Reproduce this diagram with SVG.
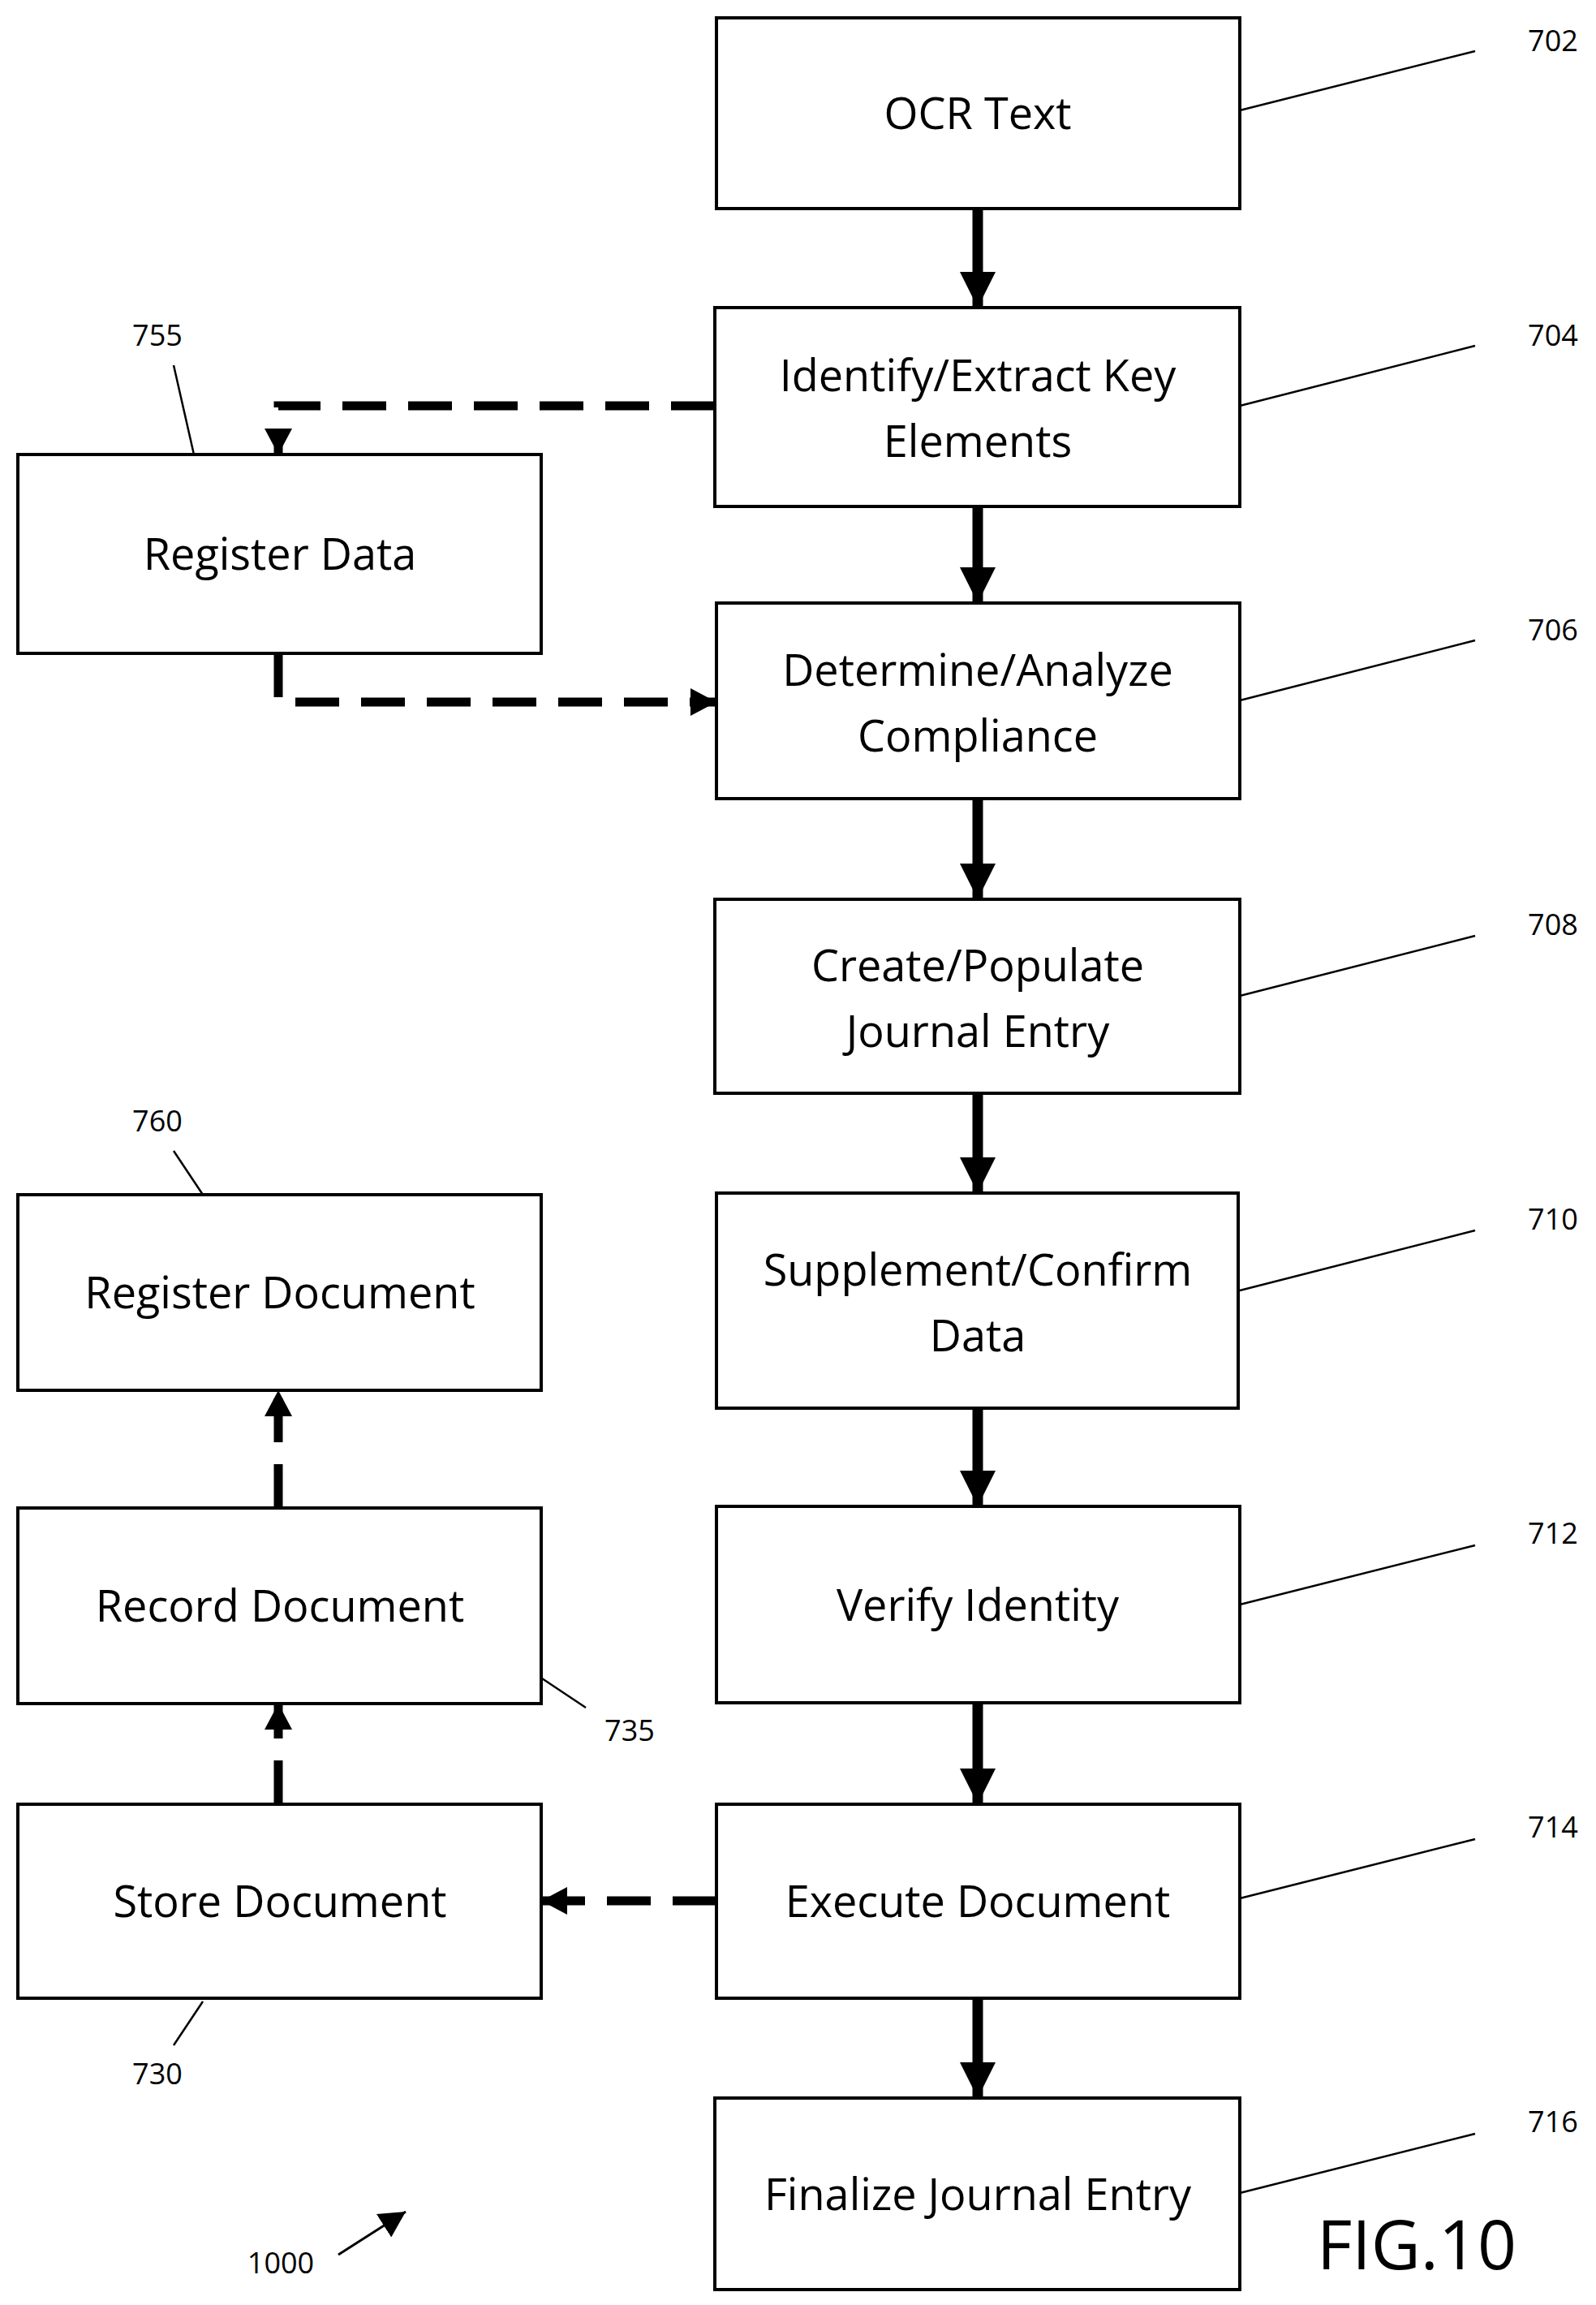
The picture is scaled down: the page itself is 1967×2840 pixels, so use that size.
<svg xmlns="http://www.w3.org/2000/svg" width="1967" height="2840" viewBox="0 0 1967 2840">
<style>
.box{fill:#fff;stroke:#000;stroke-width:4}
.t{font-family:"Open Sans","Liberation Sans",sans-serif;font-size:54px;text-anchor:middle;fill:#000}
.n{font-family:"Open Sans","Liberation Sans",sans-serif;font-size:36px;text-anchor:middle;fill:#000}
.lead{stroke:#000;stroke-width:2.5;fill:none}
.solid{stroke:#000;stroke-width:13;fill:none;marker-end:url(#as)}
.dash{stroke:#000;stroke-width:11;fill:none;stroke-dasharray:54 27;marker-end:url(#ad)}
</style>
<defs>
<marker id="as" markerUnits="userSpaceOnUse" markerWidth="48" markerHeight="44" refX="44" refY="22" orient="auto" viewBox="0 0 48 44"><path d="M0,0 L44,22 L0,44 Z"/></marker>
<marker id="ad" markerUnits="userSpaceOnUse" markerWidth="34" markerHeight="34" refX="32" refY="17" orient="auto" viewBox="0 0 34 34"><path d="M0,0 L32,17 L0,34 Z"/></marker>
</defs>
<g id="connectors">
<line class="solid" x1="1205" y1="257" x2="1205" y2="379"/>
<line class="solid" x1="1205" y1="624" x2="1205" y2="743"/>
<line class="solid" x1="1205" y1="984" x2="1205" y2="1108"/>
<line class="solid" x1="1205" y1="1347" x2="1205" y2="1470"/>
<line class="solid" x1="1205" y1="1735" x2="1205" y2="1856"/>
<line class="solid" x1="1205" y1="2098" x2="1205" y2="2223"/>
<line class="solid" x1="1205" y1="2462" x2="1205" y2="2585"/>
<path class="dash" d="M881,500 H343 V560"/>
<path class="dash" d="M343,805 V865 H883"/>
<path class="dash" d="M883,2342 H667"/>
<line class="dash" x1="343" y1="2223" x2="343" y2="2099"/>
<line class="dash" x1="343" y1="1858" x2="343" y2="1713"/>
<line class="lead" x1="1528" y1="136" x2="1818" y2="63"/>
<line class="lead" x1="1528" y1="500" x2="1818" y2="426"/>
<line class="lead" x1="1528" y1="863" x2="1818" y2="789"/>
<line class="lead" x1="1528" y1="1227" x2="1818" y2="1153"/>
<line class="lead" x1="1528" y1="1590" x2="1818" y2="1516"/>
<line class="lead" x1="1528" y1="1977" x2="1818" y2="1904"/>
<line class="lead" x1="1528" y1="2339" x2="1818" y2="2266"/>
<line class="lead" x1="1528" y1="2702" x2="1818" y2="2629"/>
<line class="lead" x1="214" y1="450" x2="239" y2="560"/>
<line class="lead" x1="214" y1="1418" x2="250" y2="1472"/>
<line class="lead" x1="662" y1="2064" x2="722" y2="2104"/>
<line class="lead" x1="250" y1="2466" x2="214" y2="2520"/>
<path d="M417,2778 L500,2725" stroke="#000" stroke-width="3" marker-end="url(#ad)"/>
</g>
<g id="n702"><rect class="box" x="883" y="22" width="645" height="235"/><text class="t" x="1205" y="159">OCR Text</text></g>
<g id="n704"><rect class="box" x="881" y="379" width="647" height="245"/><text class="t" x="1205" y="482">Identify/Extract Key</text><text class="t" x="1205" y="563">Elements</text></g>
<g id="n706"><rect class="box" x="883" y="743" width="645" height="241"/><text class="t" x="1205" y="845">Determine/Analyze</text><text class="t" x="1205" y="926">Compliance</text></g>
<g id="n708"><rect class="box" x="881" y="1108" width="647" height="239"/><text class="t" x="1205" y="1209">Create/Populate</text><text class="t" x="1205" y="1290">Journal Entry</text></g>
<g id="n710"><rect class="box" x="883" y="1470" width="643" height="265"/><text class="t" x="1205" y="1584">Supplement/Confirm</text><text class="t" x="1205" y="1665">Data</text></g>
<g id="n712"><rect class="box" x="883" y="1856" width="645" height="242"/><text class="t" x="1205" y="1997">Verify Identity</text></g>
<g id="n714"><rect class="box" x="883" y="2223" width="645" height="239"/><text class="t" x="1205" y="2362">Execute Document</text></g>
<g id="n716"><rect class="box" x="881" y="2585" width="647" height="236"/><text class="t" x="1205" y="2723">Finalize Journal Entry</text></g>
<g id="n755"><rect class="box" x="22" y="560" width="645" height="245"/><text class="t" x="345" y="702">Register Data</text></g>
<g id="n760"><rect class="box" x="22" y="1472" width="645" height="241"/><text class="t" x="345" y="1612">Register Document</text></g>
<g id="n735"><rect class="box" x="22" y="1858" width="645" height="241"/><text class="t" x="345" y="1998">Record Document</text></g>
<g id="n730"><rect class="box" x="22" y="2223" width="645" height="239"/><text class="t" x="345" y="2362">Store Document</text></g>
<g id="labels">
<text class="n" x="1914" y="63">702</text>
<text class="n" x="1914" y="426">704</text>
<text class="n" x="1914" y="789">706</text>
<text class="n" x="1914" y="1152">708</text>
<text class="n" x="1914" y="1515">710</text>
<text class="n" x="1914" y="1902">712</text>
<text class="n" x="1914" y="2264">714</text>
<text class="n" x="1914" y="2627">716</text>
<text class="n" x="194" y="426">755</text>
<text class="n" x="194" y="1394">760</text>
<text class="n" x="776" y="2145">735</text>
<text class="n" x="194" y="2568">730</text>
<text class="n" x="346" y="2801">1000</text>
<text x="1746" y="2796" font-family="Open Sans,Liberation Sans,sans-serif" font-size="84" text-anchor="middle">FIG.10</text>
</g>
</svg>
